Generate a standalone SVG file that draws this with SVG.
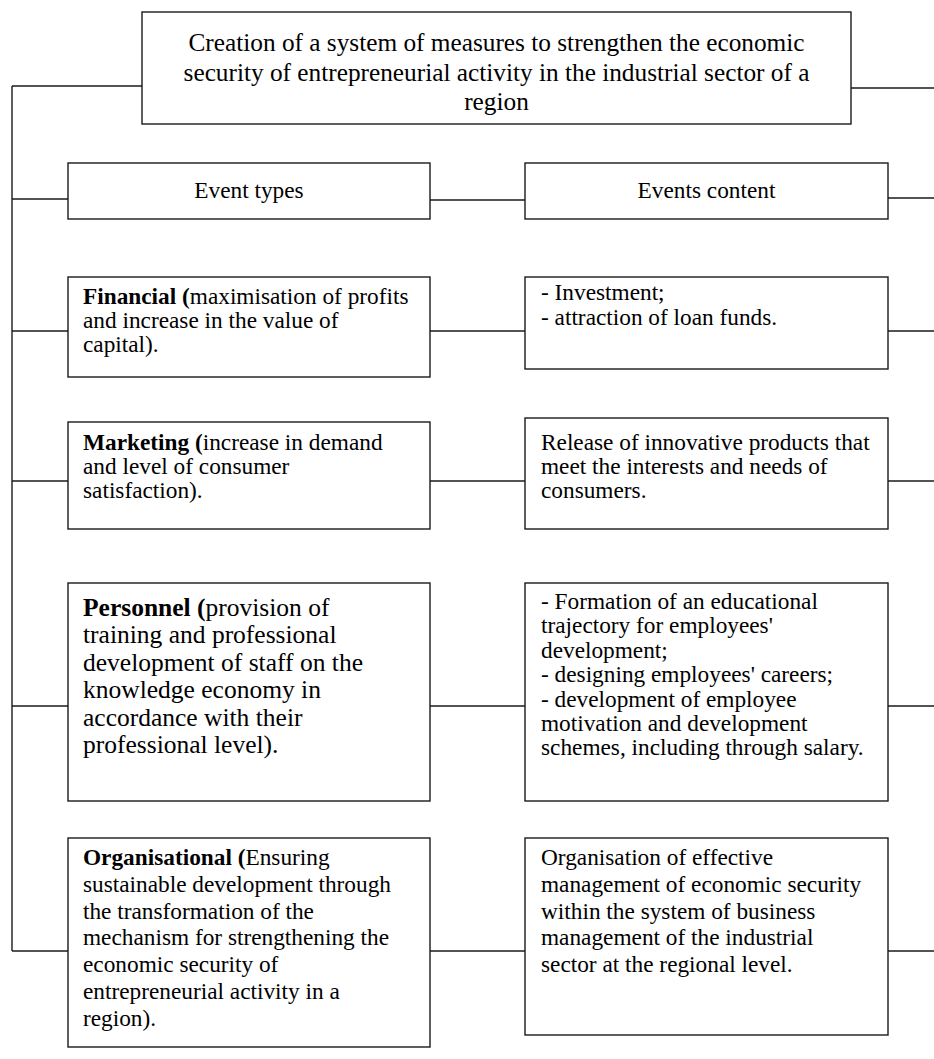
<svg xmlns="http://www.w3.org/2000/svg" width="934" height="1059" viewBox="0 0 934 1059">
<style>
.box{fill:#fff;stroke:#1a1a1a;stroke-width:1.4}
.ln{stroke:#1a1a1a;stroke-width:1.4;fill:none}
text{font-family:"Liberation Serif","Times New Roman",serif;fill:#000}
.t{font-size:25.3px}
.b{font-size:23.3px}
.p{font-size:25.5px}
.bold{font-weight:bold}
</style>
<rect width="934" height="1059" fill="#fff"/>
<g id="connectors">
<line class="ln" x1="12" y1="86" x2="12" y2="951"/>
<line class="ln" x1="12" y1="86" x2="142" y2="86"/>
<line class="ln" x1="851" y1="88" x2="934" y2="88"/>
<line class="ln" x1="12" y1="199" x2="68" y2="199"/>
<line class="ln" x1="430" y1="200" x2="525" y2="200"/>
<line class="ln" x1="888" y1="198" x2="934" y2="198"/>
<line class="ln" x1="12" y1="331" x2="68" y2="331"/>
<line class="ln" x1="430" y1="331" x2="525" y2="331"/>
<line class="ln" x1="888" y1="331" x2="934" y2="331"/>
<line class="ln" x1="12" y1="481" x2="68" y2="481"/>
<line class="ln" x1="430" y1="481" x2="525" y2="481"/>
<line class="ln" x1="888" y1="481" x2="934" y2="481"/>
<line class="ln" x1="12" y1="706" x2="68" y2="706"/>
<line class="ln" x1="430" y1="706" x2="525" y2="706"/>
<line class="ln" x1="888" y1="706" x2="934" y2="706"/>
<line class="ln" x1="12" y1="951" x2="68" y2="951"/>
<line class="ln" x1="430" y1="951" x2="525" y2="951"/>
<line class="ln" x1="888" y1="951" x2="934" y2="951"/>
</g>
<g id="title">
<rect class="box" x="142" y="12" width="709" height="112"/>
<text class="t" text-anchor="middle"><tspan x="496.5" y="51">Creation of a system of measures to strengthen the economic</tspan><tspan x="496.5" y="80.5">security of entrepreneurial activity in the industrial sector of a</tspan><tspan x="496.5" y="110">region</tspan></text>
</g>
<g id="event-types">
<rect class="box" x="68" y="163" width="362" height="56"/>
<text class="b" x="249" y="198" text-anchor="middle">Event types</text>
</g>
<g id="events-content">
<rect class="box" x="525" y="163" width="363" height="56"/>
<text class="b" x="706.5" y="198" text-anchor="middle">Events content</text>
</g>
<g id="financial">
<rect class="box" x="68" y="277" width="362" height="100"/>
<text class="b"><tspan x="83" y="304"><tspan class="bold">Financial (</tspan>maximisation of profits</tspan><tspan x="83" y="328">and increase in the value of</tspan><tspan x="83" y="352">capital).</tspan></text>
</g>
<g id="financial-content">
<rect class="box" x="525" y="277" width="363" height="92"/>
<text class="b"><tspan x="541" y="300">- Investment;</tspan><tspan x="541" y="324.5">- attraction of loan funds.</tspan></text>
</g>
<g id="marketing">
<rect class="box" x="68" y="422" width="362" height="107"/>
<text class="b"><tspan x="83" y="450"><tspan class="bold">Marketing (</tspan>increase in demand</tspan><tspan x="83" y="474">and level of consumer</tspan><tspan x="83" y="498">satisfaction).</tspan></text>
</g>
<g id="marketing-content">
<rect class="box" x="525" y="418" width="363" height="111"/>
<text class="b"><tspan x="541" y="450">Release of innovative products that</tspan><tspan x="541" y="474">meet the interests and needs of</tspan><tspan x="541" y="498">consumers.</tspan></text>
</g>
<g id="personnel">
<rect class="box" x="68" y="583" width="362" height="218"/>
<text class="p"><tspan x="83" y="616"><tspan class="bold">Personnel (</tspan>provision of</tspan><tspan x="83" y="643.4">training and professional</tspan><tspan x="83" y="670.8">development of staff on the</tspan><tspan x="83" y="698.2">knowledge economy in</tspan><tspan x="83" y="725.6">accordance with their</tspan><tspan x="83" y="753">professional level).</tspan></text>
</g>
<g id="personnel-content">
<rect class="box" x="525" y="583" width="363" height="218"/>
<text class="b"><tspan x="541" y="609">- Formation of an educational</tspan><tspan x="541" y="633.4">trajectory for employees'</tspan><tspan x="541" y="657.8">development;</tspan><tspan x="541" y="682.2">- designing employees' careers;</tspan><tspan x="541" y="706.6">- development of employee</tspan><tspan x="541" y="731">motivation and development</tspan><tspan x="541" y="755.4">schemes, including through salary.</tspan></text>
</g>
<g id="organisational">
<rect class="box" x="68" y="838" width="362" height="209"/>
<text class="b"><tspan x="83" y="865"><tspan class="bold">Organisational (</tspan>Ensuring</tspan><tspan x="83" y="891.8">sustainable development through</tspan><tspan x="83" y="918.6">the transformation of the</tspan><tspan x="83" y="945.4">mechanism for strengthening the</tspan><tspan x="83" y="972.2">economic security of</tspan><tspan x="83" y="999">entrepreneurial activity in a</tspan><tspan x="83" y="1025.8">region).</tspan></text>
</g>
<g id="organisational-content">
<rect class="box" x="525" y="838" width="363" height="197"/>
<text class="b"><tspan x="541" y="865">Organisation of effective</tspan><tspan x="541" y="891.8">management of economic security</tspan><tspan x="541" y="918.6">within the system of business</tspan><tspan x="541" y="945.4">management of the industrial</tspan><tspan x="541" y="972.2">sector at the regional level.</tspan></text>
</g>
</svg>
